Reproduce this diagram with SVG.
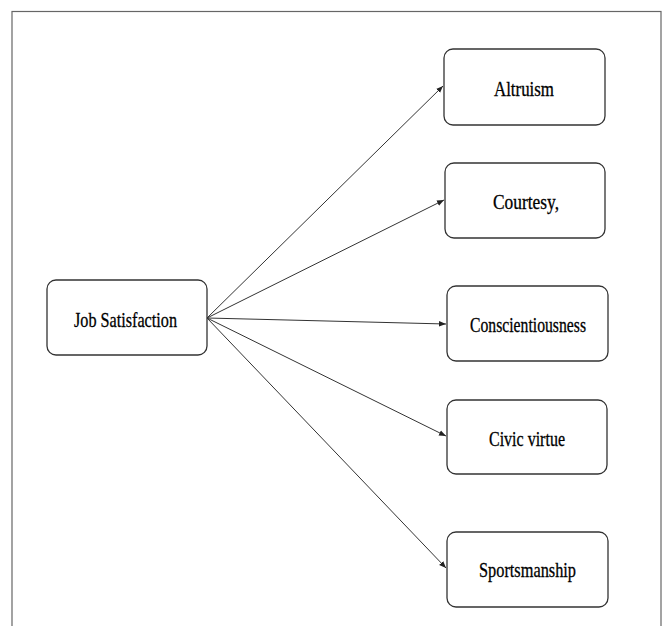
<svg xmlns="http://www.w3.org/2000/svg" width="663" height="626" viewBox="0 0 663 626">
<style>
.box{fill:#fff;stroke:#333;stroke-width:1.3}
.lbl{font-family:"Liberation Serif","DejaVu Serif",serif;font-size:21px;fill:#000;stroke:#000;stroke-width:0.3;text-anchor:middle}
.conn{stroke:#333;stroke-width:1;fill:none;marker-end:url(#ah)}
</style>
<defs>
<marker id="ah" viewBox="0 0 10 10" refX="10" refY="5" markerWidth="7" markerHeight="7" markerUnits="userSpaceOnUse" orient="auto">
<path d="M0,1 L10,5 L0,9 z" fill="#222"/>
</marker>
</defs>
<rect x="12" y="11.5" width="649" height="630" fill="#fff" stroke="#666" stroke-width="1.2"/>
<g id="connectors">
<line class="conn" x1="207" y1="318" x2="443" y2="86"/>
<line class="conn" x1="207" y1="318" x2="444" y2="200"/>
<line class="conn" x1="207" y1="318" x2="446" y2="324"/>
<line class="conn" x1="207" y1="318" x2="446" y2="436"/>
<line class="conn" x1="207" y1="318" x2="446" y2="568"/>
</g>
<g id="job-satisfaction">
<rect class="box" x="47" y="280" width="160" height="75" rx="9"/>
<text class="lbl" x="125.5" y="327" textLength="103" lengthAdjust="spacingAndGlyphs">Job Satisfaction</text>
</g>
<g id="altruism">
<rect class="box" x="444" y="49" width="161" height="76" rx="9"/>
<text class="lbl" x="524" y="96" textLength="60" lengthAdjust="spacingAndGlyphs">Altruism</text>
</g>
<g id="courtesy">
<rect class="box" x="445" y="163" width="160" height="75" rx="9"/>
<text class="lbl" x="526" y="209" textLength="66" lengthAdjust="spacingAndGlyphs">Courtesy,</text>
</g>
<g id="conscientiousness">
<rect class="box" x="447" y="286" width="161" height="75" rx="9"/>
<text class="lbl" x="528" y="332" textLength="116" lengthAdjust="spacingAndGlyphs">Conscientiousness</text>
</g>
<g id="civic-virtue">
<rect class="box" x="447" y="400" width="160" height="74" rx="9"/>
<text class="lbl" x="527" y="446" textLength="76" lengthAdjust="spacingAndGlyphs">Civic virtue</text>
</g>
<g id="sportsmanship">
<rect class="box" x="447" y="532" width="161" height="75" rx="9"/>
<text class="lbl" x="527.5" y="577" textLength="97" lengthAdjust="spacingAndGlyphs">Sportsmanship</text>
</g>
</svg>
